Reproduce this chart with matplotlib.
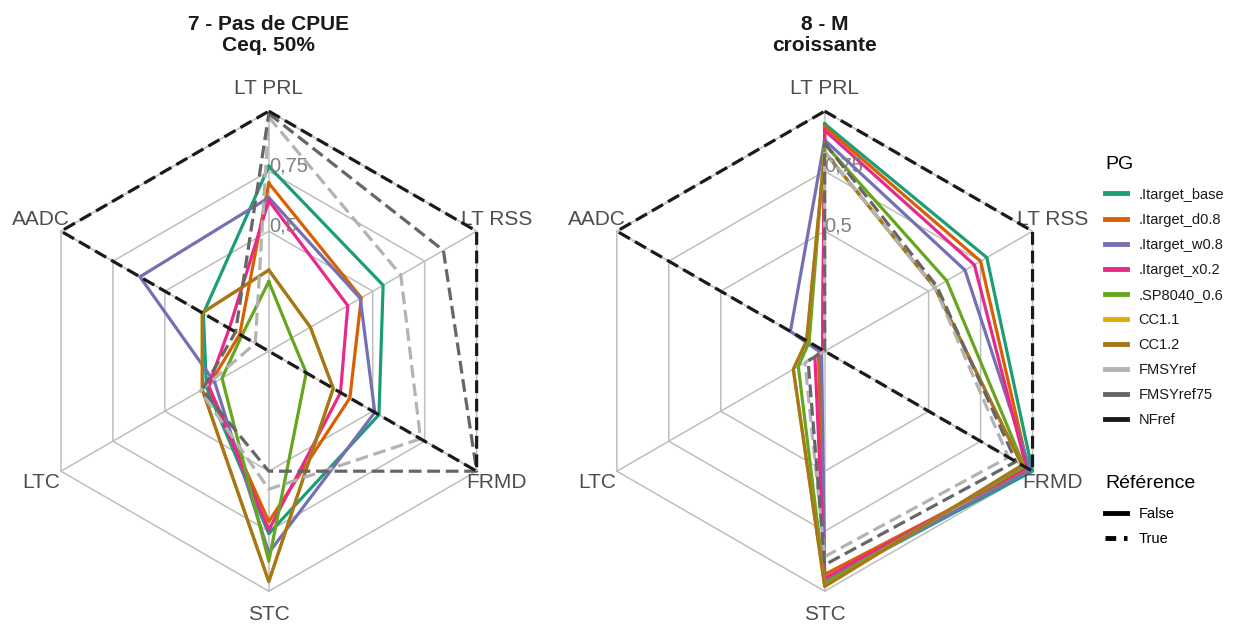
import numpy as np
import matplotlib
matplotlib.use("Agg")
import matplotlib.pyplot as plt
from matplotlib.lines import Line2D

plt.rcParams['font.family'] = ['Liberation Sans', 'DejaVu Sans']

# axes of the radar, clockwise from the top
axes_names = ['LT PRL', 'LT RSS', 'FRMD', 'STC', 'LTC', 'AADC']

pg_names = ['.Itarget_base', '.Itarget_d0.8', '.Itarget_w0.8', '.Itarget_x0.2',
            '.SP8040_0.6', 'CC1.1', 'CC1.2', 'FMSYref', 'FMSYref75', 'NFref']
pg_colors = ['#1B9E77', '#D95F02', '#7570B3', '#E7298A', '#66A61E',
             '#E6AB02', '#A6761D', '#B3B3B3', '#666666', '#1A1A1A']
is_ref = [False, False, False, False, False, False, False, True, True, True]

# panel 7 - Pas de CPUE / Ceq. 50%
p7_base = [0.77, 0.55, 0.53, 0.76, 0.30, 0.315]
p7_d08 = [0.70, 0.445, 0.39, 0.71, 0.29, 0.14]
p7_w08 = [0.64, 0.44, 0.51, 0.84, 0.26, 0.62]
p7_x02 = [0.627, 0.38, 0.345, 0.745, 0.29, 0.19]
p7_sp = [0.29, 0.11, 0.18, 0.875, 0.225, 0.13]
p7_cc11 = [0.338, 0.20, 0.31, 0.96, 0.32, 0.32]
p7_cc12 = [0.338, 0.20, 0.31, 0.96, 0.32, 0.32]
p7_fmsy = [0.975, 0.635, 0.73, 0.575, 0.33, 0.065]
p7_fmsy75 = [0.99, 0.84, 1.0, 0.50, 0.32, 0.16]
p7_nf = [1.0, 1.0, 1.0, 0.0, 0.0, 1.0]

# panel 8 - M croissante
p8_base = [0.947, 0.78, 1.0, 0.96, 0.02, 0.01]
p8_d08 = [0.935, 0.75, 0.98, 0.93, 0.03, 0.01]
p8_w08 = [0.88, 0.675, 0.99, 0.96, 0.015, 0.165]
p8_x02 = [0.92, 0.72, 0.97, 0.946, 0.047, 0.01]
p8_sp = [0.863, 0.587, 0.96, 0.967, 0.127, 0.075]
p8_cc11 = [0.83, 0.53, 0.95, 0.98, 0.151, 0.087]
p8_cc12 = [0.83, 0.53, 0.95, 0.98, 0.151, 0.087]
p8_fmsy = [0.83, 0.53, 0.884, 0.856, 0.095, 0.0]
p8_fmsy75 = [0.867, 0.54, 0.92, 0.89, 0.08, 0.0]
p8_nf = [1.0, 1.0, 1.0, 0.0, 0.0, 1.0]

panels = [
    ("7 - Pas de CPUE\nCeq. 50%",
     [p7_base, p7_d08, p7_w08, p7_x02, p7_sp, p7_cc11, p7_cc12, p7_fmsy, p7_fmsy75, p7_nf]),
    ("8 - M\ncroissante",
     [p8_base, p8_d08, p8_w08, p8_x02, p8_sp, p8_cc11, p8_cc12, p8_fmsy, p8_fmsy75, p8_nf]),
]

grid_levels = [0.5, 0.75, 1.0]
grid_labels = ['0,5', '0,75']

angles = np.arange(len(axes_names)) * 2 * np.pi / len(axes_names)
angles_closed = np.append(angles, angles[0])

DASH = (4, 1.8)

fig = plt.figure(figsize=(12.38, 6.29), dpi=100)
W, H = 1238, 629
R = 240
centers = [(268.8, 351.2), (824.7, 351.2)]

for (cx, cy), (title, series) in zip(centers, panels):
    ax = fig.add_axes([(cx - R) / W, (H - cy - R) / H, 2 * R / W, 2 * R / H],
                      projection='polar')
    ax.set_theta_offset(np.pi / 2)
    ax.set_theta_direction(-1)
    ax.set_ylim(0, 1)
    ax.set_axis_off()

    # hexagonal grid and spokes
    for g in grid_levels:
        ax.plot(angles_closed, [g] * len(angles_closed), color='#BEBEBE',
                lw=1.1, zorder=1, clip_on=False)
    for a in angles:
        ax.plot([a, a], [0, 1], color='#BEBEBE', lw=1.1, zorder=1, clip_on=False)

    for i, vals in enumerate(series):
        v = np.append(vals, vals[0])
        ls = (0, DASH) if is_ref[i] else '-'
        ax.plot(angles_closed, v, color=pg_colors[i], lw=2.3, linestyle=ls,
                zorder=2 + i, clip_on=False, solid_joinstyle='round',
                dash_capstyle='butt')

    for a, name in zip(angles, axes_names):
        ax.text(a, 1.095, name, ha='center', va='center', fontsize=15,
                color='#4D4D4D')
    for g, lab in zip(grid_levels, grid_labels):
        ax.text(0, g, lab, ha='left', va='baseline', fontsize=14.5,
                color='#7F7F7F', zorder=20)

    fig.text(cx / W, 1 - 15 / H, title, ha='center', va='top', fontsize=15,
             fontweight='bold', color='#1A1A1A', linespacing=1.15)

# legends
pg_handles = [Line2D([], [], color=c, lw=3.5) for c in pg_colors]
leg1 = fig.legend(pg_handles, pg_names, loc='upper left',
                  bbox_to_anchor=(1105 / W, 1 - 156 / H), frameon=False,
                  title='PG', title_fontsize=14, fontsize=10.5,
                  handlelength=1.5, handletextpad=0.8, labelspacing=0.76,
                  borderpad=0, borderaxespad=0, alignment='left')
leg1._legend_box.sep = 10.5
for t in leg1.get_texts():
    t.set_color('#1A1A1A')

ref_handles = [Line2D([], [], color='black', lw=3.5),
               Line2D([], [], color='black', lw=3.5, linestyle=(0, (2.2, 1.6)))]
leg2 = fig.legend(ref_handles, ['False', 'True'], loc='upper left',
                  bbox_to_anchor=(1105 / W, 1 - 475 / H), frameon=False,
                  title='Référence', title_fontsize=14, fontsize=10.5,
                  handlelength=1.5, handletextpad=0.8, labelspacing=0.76,
                  borderpad=0, borderaxespad=0, alignment='left')
leg2._legend_box.sep = 11

fig.savefig('out.png', dpi=100)
